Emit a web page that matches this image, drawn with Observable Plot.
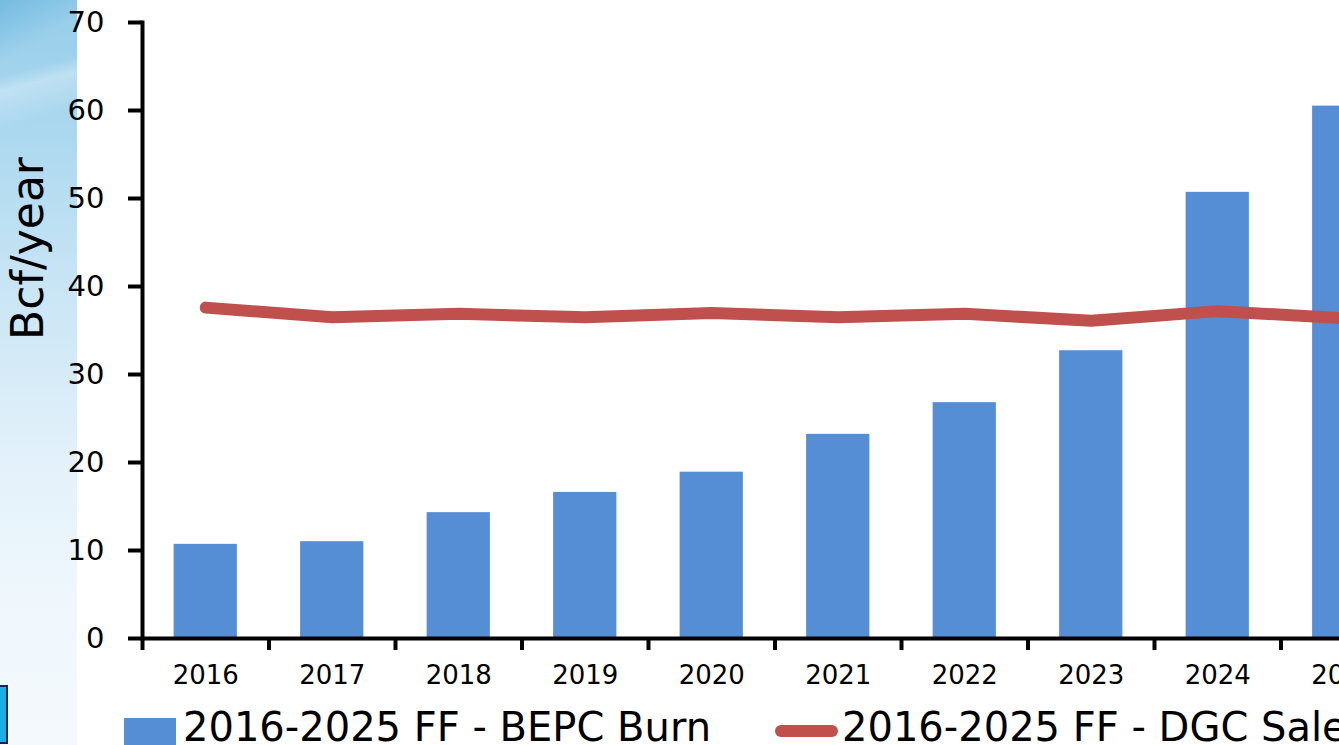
<!DOCTYPE html>
<html>
<head>
<meta charset="utf-8">
<script src="https://cdn.jsdelivr.net/npm/d3@7"></script>
<script src="https://cdn.jsdelivr.net/npm/@observablehq/plot@0.6"></script>
<style>
  html, body { margin: 0; padding: 0; background: #ffffff; }
  body { width: 1339px; height: 745px; overflow: hidden; position: relative; font-family: "DejaVu Sans", sans-serif; color: #000; }
  #strip { position: absolute; left: 0; top: 0; width: 77px; height: 745px;
    background:
      linear-gradient(150deg, rgba(80,165,215,0.45) 0%, rgba(80,165,215,0.0) 8%),
      linear-gradient(165deg, rgba(255,255,255,0) 10%, rgba(255,255,255,0.3) 12%, rgba(255,255,255,0) 17%),
      linear-gradient(180deg, #95cde9 0%, #acd8ef 18%, #cbe6f5 40%, #e3f1fa 62%, #eff7fc 80%, #f4f9fd 100%); }
  #logo { position: absolute; left: 0; top: 685px; width: 6px; height: 55px; background: #19aee8; border: 2px solid #0d2a4a; border-left: none; }
  #chart { position: relative; }
  #legend { position: relative; height: 45px; overflow: hidden; white-space: nowrap; font-size: 40px; }
  #legend .sw { position: absolute; }
  #legend .lab { position: absolute; line-height: 40px; top: 7px; }
</style>
</head>
<body>
<div id="strip"></div>
<div id="logo"></div>
<div id="chart"></div>
<div id="legend"></div>
<script>
// ---- data ----
const years = ["2016", "2017", "2018", "2019", "2020", "2021", "2022", "2023", "2024", "2025"];
const burn  = [10.7, 11.0, 14.3, 16.6, 18.9, 23.2, 26.8, 32.7, 50.7, 60.5];
const sales = [37.6, 36.5, 36.9, 36.5, 37.0, 36.5, 36.9, 36.1, 37.2, 36.4];
const yTicks = [0, 10, 20, 30, 40, 50, 60, 70];
const seriesNames = ["2016-2025 FF - BEPC Burn", "2016-2025 FF - DGC Sales"];
const yLabel = "Bcf/year";

// ---- layout ----
const W = 1339, H = 700, L = 142, T = 22, B = 62;
const stepPx = 126.5; // width of one category band (chart is cropped on the right)
const barColor = "#558ED5", lineColor = "#C0504D";

const data = years.map((y, i) => ({year: y, burn: burn[i], sales: sales[i]}));

const plot = Plot.plot({
  width: W, height: H,
  marginLeft: L, marginRight: 0, marginTop: T, marginBottom: B,
  style: {background: "transparent", fontFamily: "DejaVu Sans, sans-serif", color: "#000", overflow: "visible"},
  x: {type: "band", domain: years, range: [L, L + stepPx * years.length], paddingInner: 0.5, paddingOuter: 0.25, round: false},
  y: {domain: [0, 70], range: [H - B, T]},
  marks: [
    Plot.barY(data, {x: "year", y: "burn", fill: barColor}),
    Plot.lineY(data, {x: "year", y: "sales", stroke: lineColor, strokeWidth: 12, strokeLinecap: "round", strokeLinejoin: "round"}),
    Plot.ruleY([0], {stroke: "#000", strokeWidth: 4}),
    Plot.frame({anchor: "left", stroke: "#000", strokeWidth: 4}),
    Plot.axisY({ticks: yTicks, tickSize: 14, tickPadding: 24, strokeWidth: 4, fontSize: 29, label: null}),
    Plot.axisX({ticks: years, tickSize: 12, tickPadding: 0, dx: -stepPx / 2, tickFormat: () => "", strokeWidth: 4, label: null}),
    Plot.axisX({ticks: years, tickSize: 0, tickPadding: 27, fontSize: 26, label: null}),
    Plot.text([yLabel], {frameAnchor: "top-left", textAnchor: "middle", lineAnchor: "middle", rotate: -90, dx: -114, dy: 226, fontSize: 44, fill: "#000"})
  ]
});
document.getElementById("chart").appendChild(plot);

// ---- legend ----
const legend = document.getElementById("legend");
const items = [
  {name: seriesNames[0], sw: {left: 124, top: 18, width: 52, height: 30, background: barColor}, textLeft: 183},
  {name: seriesNames[1], sw: {left: 775, top: 25, width: 63, height: 12, background: lineColor, borderRadius: "6px"}, textLeft: 842}
];
items.forEach(it => {
  const s = document.createElement("div");
  s.className = "sw";
  Object.assign(s.style, {left: it.sw.left + "px", top: it.sw.top + "px", width: it.sw.width + "px", height: it.sw.height + "px", background: it.sw.background, borderRadius: it.sw.borderRadius || "0"});
  legend.appendChild(s);
  const t = document.createElement("div");
  t.className = "lab";
  t.style.left = it.textLeft + "px";
  t.textContent = it.name;
  legend.appendChild(t);
});
</script>
</body>
</html>
